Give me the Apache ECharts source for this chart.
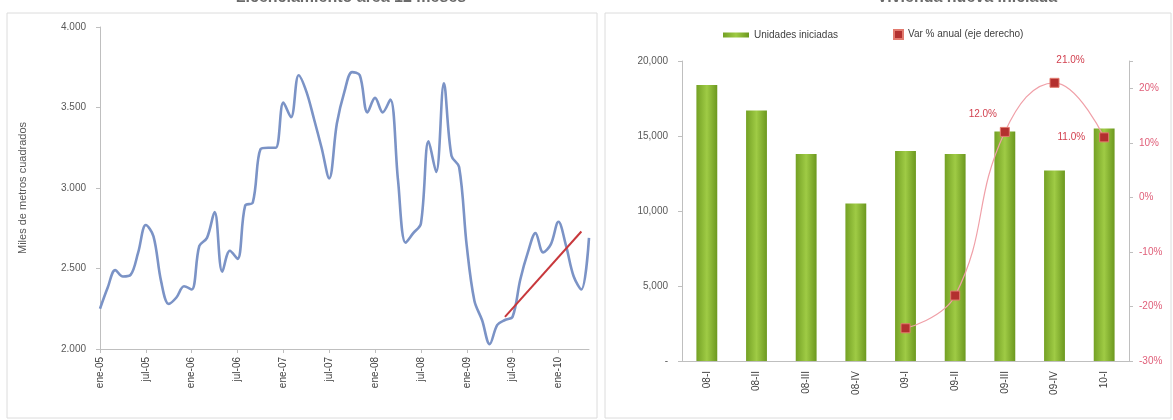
<!DOCTYPE html>
<html>
<head>
<meta charset="utf-8">
<script src="https://cdn.jsdelivr.net/npm/echarts@6/dist/echarts.min.js"></script>
<style>html,body{margin:0;padding:0;background:#fff}#c{width:1173px;height:420px}</style>
</head>
<body>
<div id="c"></div>
<script>
// ---- Left chart: monthly area (miles de m2) ----
const monthNames = ['ene','feb','mar','abr','may','jun','jul','ago','sep','oct','nov','dic'];
const years = ['05','06','07','08','09','10'];
const monthCount = 65; // ene-05 .. may-10
const areaValues = [
  2250, 2380, 2490, 2450, 2460, 2600, 2770, 2700, 2420, 2280, 2320, 2390,
  2370, 2640, 2690, 2850, 2480, 2610, 2560, 2890, 2910, 3240, 3250, 3250,
  3530, 3440, 3700, 3600, 3430, 3250, 3060, 3400, 3600, 3720, 3700, 3470,
  3560, 3470, 3550, 3050, 2660, 2720, 2780, 3290, 3100, 3650, 3200, 3130,
  2640, 2300, 2180, 2030, 2150, 2180, 2200, 2430, 2600, 2720, 2600, 2650,
  2790, 2640, 2450, 2370, 2690
];
const trendStart = [53, 2200];
const trendEnd = [63, 2730];
const leftTicks = [2000, 2500, 3000, 3500, 4000];

// ---- Right chart: quarterly units and annual % change ----
const quarters = ['08-I','08-II','08-III','08-IV','09-I','09-II','09-III','09-IV','10-I'];
const unidades = [18400, 16700, 13800, 10500, 14000, 13800, 15300, 12700, 15500];
const varAnual = [null, null, null, null, -24, -18, 12, 21, 11];
const labeledPoints = [6, 7, 8];

const monthCats = [];
for (let i = 0; i < monthCount; i++) {
  monthCats.push(monthNames[i % 12] + '-' + years[Math.floor(i / 12)]);
}

function fmtDot(v){ return String(v).replace(/\B(?=(\d{3})+(?!\d))/g, '.'); }
function fmtComma(v){ return v === 0 ? '-' : String(v).replace(/\B(?=(\d{3})+(?!\d))/g, ','); }

const labelCfg = {
  6: {position:'top', offset:[-22,-3]},
  7: {position:'top', offset:[16,-8]},
  8: {position:'left', distance:14}
};
const varData = varAnual.map((v, i) => {
  if (v === null) return null;
  const item = {value: v};
  if (labeledPoints.indexOf(i) >= 0) {
    item.label = Object.assign({show:true}, labelCfg[i]);
  }
  return item;
});

const chart = echarts.init(document.getElementById('c'), null, {renderer:'canvas'});
const axisGray = '#bfbfbf';
const textGray = '#595959';
chart.setOption({
  animation: false,
  backgroundColor: '#ffffff',
  textStyle: {fontFamily: 'Liberation Sans, Arial, sans-serif'},
  graphic: [
    {type:'rect', shape:{x:7, y:13, width:590, height:405}, style:{fill:'none', stroke:'#dcdcdc', lineWidth:1}},
    {type:'rect', shape:{x:605, y:13, width:566, height:405}, style:{fill:'none', stroke:'#dcdcdc', lineWidth:1}},
    {type:'text', x:351, y:6, style:{text:'Licenciamiento área 12 meses', textAlign:'center', textVerticalAlign:'bottom', fill:'#6a6a6a', font:'bold 16px Liberation Sans, Arial, sans-serif'}},
    {type:'text', x:967, y:6, style:{text:'Vivienda nueva iniciada', textAlign:'center', textVerticalAlign:'bottom', fill:'#6a6a6a', font:'bold 16px Liberation Sans, Arial, sans-serif'}}
  ],
  legend: [
    {data:['Unidades iniciadas'], left:718, top:25, itemWidth:26, itemHeight:5, icon:'rect',
     textStyle:{fontSize:10, color:'#404040'}, selectedMode:false},
    {data:['Var % anual (eje derecho)'], left:888, top:24, itemWidth:9, itemHeight:9, icon:'rect',
     textStyle:{fontSize:10, color:'#404040'}, selectedMode:false}
  ],
  grid: [
    {left:100, right:584, top:27, bottom:71},
    {left:682, right:44, top:61, bottom:59}
  ],
  xAxis: [
    {type:'category', gridIndex:0, data:monthCats, boundaryGap:false,
     axisLine:{lineStyle:{color:axisGray}},
     axisTick:{interval:5, lineStyle:{color:axisGray}, length:4},
     axisLabel:{interval:5, rotate:90, fontSize:10, color:'#404040', margin:8}},
    {type:'category', gridIndex:1, data:quarters, boundaryGap:true,
     axisLine:{lineStyle:{color:axisGray}},
     axisTick:{show:false},
     axisLabel:{rotate:90, fontSize:10, color:'#404040', margin:10}}
  ],
  yAxis: [
    {type:'value', gridIndex:0, min:leftTicks[0], max:leftTicks[leftTicks.length-1], interval:500,
     name:'Miles de metros cuadrados', nameLocation:'middle', nameGap:72, nameRotate:90,
     nameTextStyle:{fontSize:11, color:textGray},
     axisLine:{show:true, lineStyle:{color:axisGray}},
     axisTick:{show:true, length:4, lineStyle:{color:axisGray}},
     splitLine:{show:false},
     axisLabel:{formatter:fmtDot, fontSize:10, color:textGray, margin:14}},
    {type:'value', gridIndex:1, min:0, max:20000, interval:5000,
     axisLine:{show:true, lineStyle:{color:axisGray}},
     axisTick:{show:true, length:4, lineStyle:{color:axisGray}},
     splitLine:{show:false},
     axisLabel:{formatter:fmtComma, fontSize:10, color:textGray, margin:14}},
    {type:'value', gridIndex:1, position:'right', min:-30, max:25, interval:10,
     axisLine:{show:true, lineStyle:{color:axisGray}},
     axisTick:{show:true, length:4, lineStyle:{color:axisGray}},
     splitLine:{show:false},
     axisLabel:{formatter:v => (v > 20 ? '' : v + '%'), fontSize:10, color:'#e0607a', margin:10}}
  ],
  series: [
    {name:'Área', type:'line', xAxisIndex:0, yAxisIndex:0, data:areaValues,
     smooth:0.35, symbol:'none', lineStyle:{color:'#7b93c6', width:2.6}},
    {name:'Tendencia', type:'line', xAxisIndex:0, yAxisIndex:0,
     data:[{value:trendStart, symbol:'none'}, {value:trendEnd, symbol:'circle', symbolSize:6}],
     lineStyle:{color:'#c8383c', width:2}, itemStyle:{color:'#c8383c'}},
    {name:'Unidades iniciadas', type:'bar', xAxisIndex:1, yAxisIndex:1, data:unidades, barWidth:'42%',
     itemStyle:{color:new echarts.graphic.LinearGradient(0,0,1,0,[
       {offset:0, color:'#74a124'}, {offset:0.5, color:'#9fcb45'}, {offset:1, color:'#6c981f'}])}},
    {name:'Var % anual (eje derecho)', type:'line', xAxisIndex:1, yAxisIndex:2, data:varData,
     smooth:0.45, connectNulls:false, symbol:'rect', symbolSize:9,
     lineStyle:{color:'#f0a0a8', width:1.2},
     itemStyle:{color:'#b3302f', borderColor:'#e27a6e', borderWidth:1},
     label:{show:false, fontSize:10, color:'#d2404f', formatter:p => p.value.toFixed(1) + '%'}}
  ]
});
</script>
</body>
</html>
